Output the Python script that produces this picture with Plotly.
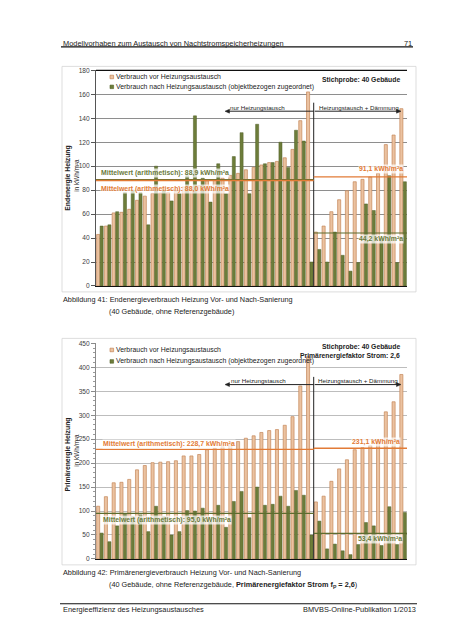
import plotly.graph_objects as go

W, H = 452, 640
FONT = "Liberation Sans, Arial, sans-serif"


def px(x):
    return x / W


def py(y):
    return 1 - y / H


# ---------------- data ----------------
buildings = list(range(1, 41))
end_before = [43, 50, 61, 61.5, 64, 71.5, 75, 77.3, 77.7, 78, 79, 82.7, 82.7, 83.8,
              87.7, 88.8, 90, 92.3, 94, 97, 99, 101, 103, 104, 107, 114, 138, 162,
              45, 50, 62, 72, 79.5, 87, 89, 91, 94, 118, 126, 148]
end_after = [50, 51, 62, 78, 80, 78, 51, 100, 80, 71, 77, 92, 142, 90,
             70, 102, 77, 108, 128, 77, 135, 102, 103, 120, 99, 130, 121, 20,
             30.5, 20, 45, 25.6, 12.4, 19.5, 68.5, 63, 40, 92, 19.5, 87]
prim_before = [110, 130, 159, 160, 166, 186, 195, 201, 202, 203, 205, 215, 215, 218,
               228, 231, 234, 240, 245, 252, 257, 264, 268, 270, 279, 297, 361, 422,
               119, 131, 162, 188, 207, 228, 232, 237, 245, 307, 328, 385]
prim_after = [54, 36, 69, 93, 88, 92, 57, 110, 88, 50, 57, 101, 100, 106,
              77, 112, 66, 120, 141, 86, 150, 112, 114, 131, 110, 143, 133, 50,
              79, 21, 31, 17, 9, 30, 76, 69, 28, 109, 30, 97]
n_group1 = 28
end_means = {"before_g1": 88.0, "after_g1": 88.9, "before_g2": 91.1, "after_g2": 44.2}
prim_means = {"before_g1": 228.7, "after_g1": 95.0, "before_g2": 231.1, "after_g2": 53.4}
end_ticks = list(range(0, 181, 20))
prim_ticks = list(range(0, 451, 50))

TAN_FILL = "#ebc2a0"
TAN_LINE = "#c48659"
GREEN_FILL = "#6d7d3a"
GREEN_LINE = "#515f26"
ORANGE = "#e27b36"
OLIVE_TXT = "#6b7a3b"
OLIVE_LINE = "#5e6c2e"

xs = [b - 1 for b in buildings]
div = n_group1 - 0.5
last = len(buildings) - 0.5

fig = go.Figure()
for (yb, ya, xa, ya_ax) in [(end_before, end_after, "x", "y"),
                            (prim_before, prim_after, "x2", "y2")]:
    fig.add_trace(go.Bar(x=xs, y=yb, xaxis=xa, yaxis=ya_ax, showlegend=False,
                         marker=dict(color=TAN_FILL, line=dict(color=TAN_LINE, width=0.7)),
                         hoverinfo="skip"))
    fig.add_trace(go.Bar(x=xs, y=ya, xaxis=xa, yaxis=ya_ax, showlegend=False,
                         marker=dict(color=GREEN_FILL, line=dict(color=GREEN_LINE, width=0.5)),
                         hoverinfo="skip"))

shapes = []
annotations = []


def txt(x, y, s, size=7.2, color="#222222", xanchor="left", bg=None, angle=0):
    d = dict(x=px(x), y=py(y), xref="paper", yref="paper", text=s, showarrow=False,
             xanchor=xanchor, yanchor="middle", textangle=angle, borderpad=0,
             font=dict(size=size, color=color, family=FONT))
    if bg:
        d["bgcolor"] = bg
    annotations.append(d)


def pline(x0, y0, x1, y1, color, width=1.0):
    shapes.append(dict(type="line", xref="paper", yref="paper", x0=px(x0), y0=py(y0),
                       x1=px(x1), y1=py(y1), line=dict(color=color, width=width)))


def prect(x0, y0, x1, y1, fill, line, width=0.8):
    shapes.append(dict(type="rect", xref="paper", yref="paper", x0=px(x0), y0=py(y0),
                       x1=px(x1), y1=py(y1), fillcolor=fill,
                       line=dict(color=line, width=width), layer="below"))


def arrowhead(xh, y, direction):
    # small filled triangle, tip at (xh, y); direction -1 = pointing left, +1 = right
    xb = xh - direction * 4.5
    path = "M {:.5f},{:.5f} L {:.5f},{:.5f} L {:.5f},{:.5f} Z".format(
        px(xh), py(y), px(xb), py(y - 2), px(xb), py(y + 2))
    shapes.append(dict(type="path", xref="paper", yref="paper", path=path,
                       fillcolor="#222222", line=dict(color="#222222", width=0.5)))


# page header / footer
txt(54, 31.5, "Modellvorhaben zum Austausch von Nachtstromspeicherheizungen", size=7.4)
txt(405, 31.5, "71", size=7.4, xanchor="right")
pline(53, 35.3, 405, 35.3, "#111111", 1.1)
pline(52, 598.3, 409, 598.3, "#111111", 1.1)
txt(54, 604, "Energieeffizienz des Heizungsaustausches", size=7.4)
txt(409, 604, "BMVBS-Online-Publikation 1/2013", size=7.4, xanchor="right")

# chart frames
prect(54, 55, 408, 283, "rgba(0,0,0,0)", "#d4d4d4")
prect(54, 330, 408, 559, "rgba(0,0,0,0)", "#d4d4d4")

# captions
txt(54, 291, "Abbildung 41: Endenergieverbrauch Heizung Vor- und Nach-Sanierung", size=7.3)
txt(100, 302.5, "(40 Gebäude, ohne Referenzgebäude)", size=7.3)
txt(54, 567, "Abbildung 42: Primärenergieverbrauch Heizung Vor- und Nach-Sanierung", size=7.3)
txt(100, 579, "(40 Gebäude, ohne Referenzgebäude, <b>Primärenergiefaktor Strom f<sub>P</sub> = 2,6</b>)",
    size=7.3)

# axis titles
txt(60.5, 168, "<b>Endenergie Heizung</b>", size=6.8, xanchor="center", angle=-90)
txt(68.5, 165, "in kWh/m²a", size=6.4, xanchor="center", angle=-90)
txt(60.5, 448, "<b>Primärenergie Heizung</b>", size=6.8, xanchor="center", angle=-90)
txt(68.5, 443, "in kWh/m²a", size=6.4, xanchor="center", angle=-90)

# legends
for (y1, y2) in [(65.7, 75.7), (341.7, 353.3)]:
    prect(102, y1 - 1.8, 105.6, y1 + 1.8, TAN_FILL, TAN_LINE, 0.7)
    prect(102, y2 - 1.8, 105.6, y2 + 1.8, GREEN_FILL, GREEN_LINE, 0.6)
    txt(106.5, y1, "Verbrauch vor Heizungsaustausch", size=6.9)
    txt(106.5, y2, "Verbrauch nach Heizungsaustausch (objektbezogen zugeordnet)", size=6.9)

txt(393, 69, "<b>Stichprobe: 40 Gebäude</b>", size=6.8, xanchor="right")
txt(393, 339, "<b>Stichprobe: 40 Gebäude</b>", size=6.8, xanchor="right")
txt(393, 347.5, "<b>Primärenergiefaktor Strom: 2,6</b>", size=6.8, xanchor="right")

# top border line of chart 1 plot area
pline(88, 59, 399, 59, "#111111", 1.2)

# mean lines and dividers (data coordinates)
for xa, ya, m, ytop in [("x", "y", end_means, 153), ("x2", "y2", prim_means, 380)]:
    shapes.append(dict(type="line", xref=xa, yref=ya, x0=div, x1=div, y0=0, y1=ytop,
                       line=dict(color="#222222", width=1.0)))
    shapes.append(dict(type="line", xref=xa, yref=ya, x0=-0.5, x1=div, y0=m["after_g1"],
                       y1=m["after_g1"], line=dict(color=OLIVE_LINE, width=1.2)))
    shapes.append(dict(type="line", xref=xa, yref=ya, x0=-0.5, x1=div, y0=m["before_g1"],
                       y1=m["before_g1"], line=dict(color=ORANGE, width=1.4)))
    shapes.append(dict(type="line", xref=xa, yref=ya, x0=div, x1=last, y0=m["after_g2"],
                       y1=m["after_g2"], line=dict(color=OLIVE_LINE, width=1.2)))
    shapes.append(dict(type="line", xref=xa, yref=ya, x0=div, x1=last, y0=m["before_g2"],
                       y1=m["before_g2"], line=dict(color=ORANGE, width=1.4)))

# arrows (page pixels)
div_px = 88 + n_group1 * (311 / len(buildings))
for yarr in (100.3, 376.7):
    pline(219, yarr, div_px, yarr, "#222222", 1.0)
    pline(div_px + 1, yarr, 391, yarr, "#222222", 1.0)
    arrowhead(217, yarr, -1)
    arrowhead(393, yarr, 1)

for (xc, yc, s) in [(249.5, 96.5, "nur Heizungstausch"), (350.5, 96.5, "Heizungstausch + Dämmung"),
                    (250.5, 372.3, "nur Heizungstausch"), (349.7, 372.3, "Heizungstausch + Dämmung")]:
    txt(xc, yc, s, size=6.2, xanchor="center")

BG = "rgba(255,255,255,0.72)"
# chart 1 mean labels
txt(92, 162.3, "<b>Mittelwert (arithmetisch): 88,9 kWh/m²a</b>", size=6.9, color=OLIVE_TXT, bg=BG)
txt(92, 178.5, "<b>Mittelwert (arithmetisch): 88,0 kWh/m²a</b>", size=6.9, color=ORANGE, bg=BG)
txt(396, 158.3, "<b>91,1 kWh/m²a</b>", size=6.9, color=ORANGE, xanchor="right", bg=BG)
txt(396, 229.5, "<b>44,2 kWh/m²a</b>", size=6.9, color=OLIVE_TXT, xanchor="right", bg=BG)
# chart 2 mean labels
txt(94, 436.7, "<b>Mittelwert (arithmetisch): 228,7 kWh/m²a</b>", size=6.9, color=ORANGE, bg=BG)
txt(393, 435, "<b>231,1 kWh/m²a</b>", size=6.9, color=ORANGE, xanchor="right", bg=BG)
txt(94, 514, "<b>Mittelwert (arithmetisch): 95,0 kWh/m²a</b>", size=6.9, color=OLIVE_TXT, bg=BG)
txt(395, 532.7, "<b>53,4 kWh/m²a</b>", size=6.9, color=OLIVE_TXT, xanchor="right", bg=BG)

xdom = [px(88), px(399)]
common_x = dict(domain=xdom, range=[-0.5, last], showticklabels=False, showgrid=False,
                zeroline=False, showline=True, linecolor="#111111", linewidth=1.4, ticks="",
                fixedrange=True)
tickfont = dict(size=6.6, color="#404040", family=FONT)

fig.update_layout(
    width=W, height=H, margin=dict(l=0, r=0, t=0, b=0),
    paper_bgcolor="white", plot_bgcolor="rgba(0,0,0,0)",
    barmode="group", bargap=0.1, bargroupgap=0.12,
    xaxis=dict(anchor="y", **common_x),
    xaxis2=dict(anchor="y2", **common_x),
    yaxis=dict(domain=[py(277), py(59)], anchor="x", range=[0, 180], tickvals=end_ticks,
               showgrid=True, gridcolor="#8e8e8e", gridwidth=0.8, zeroline=False,
               showline=True, linecolor="#555555", linewidth=1, ticks="outside", ticklen=4,
               tickcolor="#555555", tickfont=tickfont),
    yaxis2=dict(domain=[py(553), py(335)], anchor="x2", range=[0, 450], tickvals=prim_ticks,
                showgrid=True, gridcolor="#bdbdbd", gridwidth=0.8, zeroline=False,
                showline=True, linecolor="#8a8a8a", linewidth=1, ticks="outside", ticklen=4,
                tickcolor="#8a8a8a", tickfont=tickfont,
                minor=dict(dtick=10, ticks="outside", ticklen=2, tickcolor="#9a9a9a", showgrid=False)),
    shapes=shapes,
    annotations=annotations,
    font=dict(family=FONT),
)

fig.write_html("out.html")
